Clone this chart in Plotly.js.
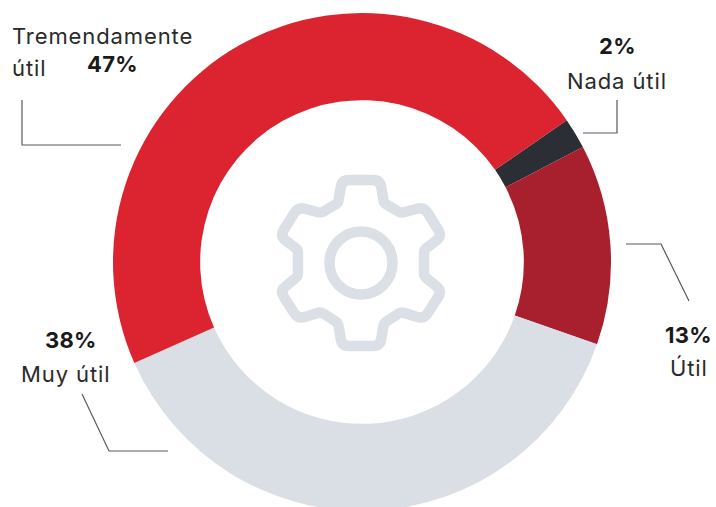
<!DOCTYPE html>
<html><head><meta charset="utf-8">
<script src="https://cdn.plot.ly/plotly-3.0.1.min.js"></script>
<style>html,body{margin:0;padding:0;width:716px;height:507px;overflow:hidden;background:#fff}
.annotation-text{letter-spacing:.9px}
.annotation-text tspan[style*="bold"]{letter-spacing:.3px}
</style>
</head><body><div id="chart" style="width:716px;height:520px"></div>
<script>
const categories = ["Nada útil", "Útil", "Muy útil", "Tremendamente útil"];
const values = [2, 13, 38, 47];
const colors = ["#2B2E35", "#A8202E", "#D9DFE4", "#DC2430"];
const W = 716, H = 520;
const FONT = "Inter, 'Open Sans', sans-serif";
const X = p => p / W, Y = p => 1 - p / H;

// Leader lines (page pixels)
const leaders = [
  [[22,100],[22,145],[121,145]],
  [[617,100],[617,133],[583,133]],
  [[626,244],[661,244],[689,301]],
  [[82,394],[109,451],[168,451]]
];
// Gear outline vertices in page pixels
const gear = [[342,180],[380,180],[384,203],[401,213],[424,207],[442,236],[424,250],[424,276],[442,291],[424,319],[401,312],[384,323],[380,346],[342,346],[338,323],[321,312],[298,319],[280,291],[298,276],[298,250],[280,236],[298,207],[321,213],[338,203]];
const gearColor = "#DAE0E6";

function roundedPath(pts, rOut, rIn){
  let d = "";
  const n = pts.length;
  for(let i=0;i<n;i++){
    const p=pts[(i+n-1)%n], c=pts[i], q=pts[(i+1)%n];
    const cross=(c[0]-p[0])*(q[1]-c[1])-(c[1]-p[1])*(q[0]-c[0]);
    const r = cross>0 ? rOut : rIn;
    const l1=Math.hypot(p[0]-c[0],p[1]-c[1]), l2=Math.hypot(q[0]-c[0],q[1]-c[1]);
    const r1=Math.min(r,l1/2.2), r2=Math.min(r,l2/2.2);
    const a=[c[0]+(p[0]-c[0])*r1/l1,c[1]+(p[1]-c[1])*r1/l1];
    const b=[c[0]+(q[0]-c[0])*r2/l2,c[1]+(q[1]-c[1])*r2/l2];
    d += (i?"L":"M")+X(a[0]).toFixed(5)+","+Y(a[1]).toFixed(5)+" Q"+X(c[0]).toFixed(5)+","+Y(c[1]).toFixed(5)+" "+X(b[0]).toFixed(5)+","+Y(b[1]).toFixed(5)+" ";
  }
  return d+"Z";
}

const shapes = leaders.map(l => ({
  type:"path", xref:"paper", yref:"paper",
  path: l.map((p,i)=>(i?"L":"M")+X(p[0]).toFixed(5)+","+Y(p[1]).toFixed(5)).join(" "),
  line:{color:"#555a5e", width:1.2}
}));
shapes.push({type:"path", xref:"paper", yref:"paper", path:roundedPath(gear,7,3), line:{color:gearColor,width:10.5}});
shapes.push({type:"circle", xref:"paper", yref:"paper", x0:X(361-31.5), x1:X(361+31.5), y0:Y(263-31.5), y1:Y(263+31.5), line:{color:gearColor,width:10.5}});

const pct = i => values[i] + "%";
function ann(text, x, y, bold, anchor){
  return {text: bold ? "<b>"+text+"</b>" : text, x:X(x), y:Y(y), xref:"paper", yref:"paper", showarrow:false,
    xanchor:anchor||"center", yanchor:"middle", font:{family:FONT, size:22, color:bold?"#1a1a1a":"#2a2a2a"}};
}
const annotations = [
  ann("Tremendamente", 10, 36, false, "left"),
  ann("útil", 10, 68, false, "left"),
  ann(pct(3), 112, 64, true),
  ann(pct(0), 617, 46, true),
  ann(categories[0], 617, 81, false),
  ann(pct(1), 688, 335, true),
  ann(categories[1], 689, 368, false),
  ann(pct(2), 71, 340, true),
  ann(categories[2], 66, 374, false)
];

Plotly.newPlot("chart", [{
  type:"pie", labels:categories, values:values, sort:false, direction:"clockwise", rotation:55.3,
  hole:0.65, marker:{colors:colors, line:{width:0}}, textinfo:"none", showlegend:false,
  domain:{x:[X(113),X(611)], y:[Y(511),Y(13)]}
}], {
  width:W, height:H, margin:{l:0,r:0,t:0,b:0}, paper_bgcolor:"#fff", showlegend:false,
  shapes:shapes, annotations:annotations
}, {displayModeBar:false});
</script></body></html>
